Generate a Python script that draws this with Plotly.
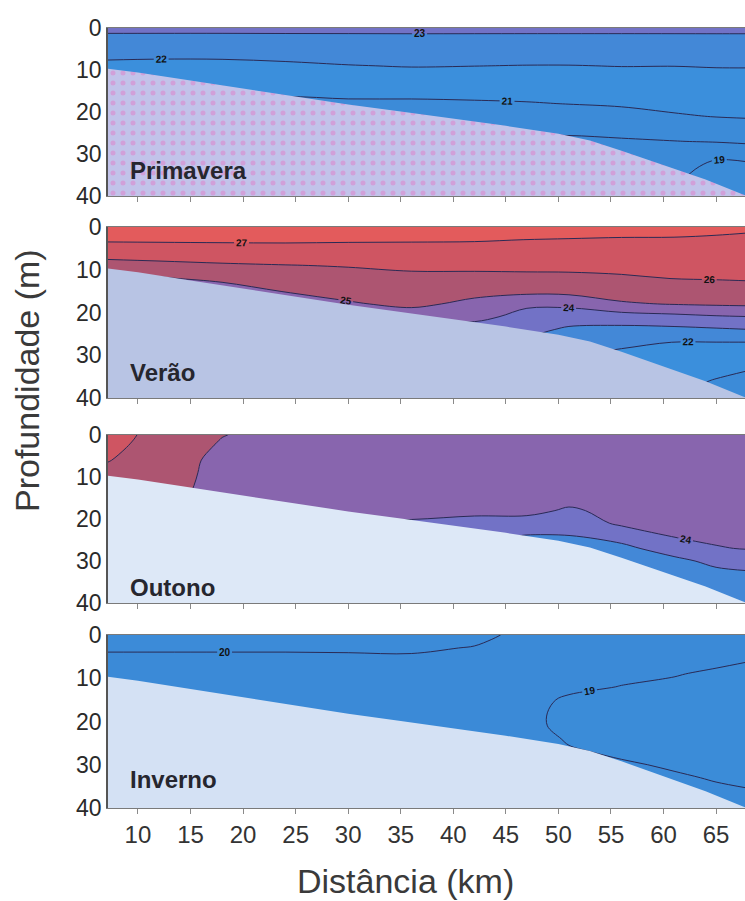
import plotly.graph_objects as go

# ---------------- data ----------------
dist_km = [7.1, 12, 18, 24, 30, 36, 42, 47, 51, 56, 61, 65, 68]
depth_m = [0, 1, 3, 6, 9, 12, 15, 18, 21, 24, 27, 30, 33, 36, 40]

# bottom topography (km, m)
bottom_km = [6.9, 10, 15, 20, 25, 30, 35, 40, 45, 50, 53, 56, 60, 64, 67.5, 68.5]
bottom_m = [9.6, 10.6, 12.5, 14.4, 16.3, 18.2, 19.9, 21.6, 23.3, 25.2, 26.8, 29.2, 32.6, 36.1, 39.6, 40.5]

# temperature profiles (°C) at each station, top to bottom, one list per station
primavera = [
    [23.3, 23.05, 22.69, 22.19, 21.84, 21.59, 21.34, 21.08, 20.75, 20.38, 20.02, 19.77, 19.54, 19.31, 19.02],
    [23.3, 23.05, 22.68, 22.16, 21.82, 21.56, 21.3, 21.04, 20.71, 20.35, 20.02, 19.77, 19.54, 19.31, 19.02],
    [23.3, 23.05, 22.68, 22.17, 21.82, 21.55, 21.27, 21.02, 20.67, 20.33, 20.02, 19.77, 19.54, 19.31, 19.02],
    [23.3, 23.05, 22.73, 22.27, 21.86, 21.51, 21.15, 20.83, 20.54, 20.25, 19.96, 19.74, 19.52, 19.3, 19.02],
    [23.3, 23.05, 22.75, 22.35, 21.97, 21.6, 21.22, 20.87, 20.54, 20.22, 19.93, 19.71, 19.5, 19.29, 19.02],
    [23.3, 23.05, 22.78, 22.41, 22.04, 21.64, 21.24, 20.86, 20.52, 20.17, 19.9, 19.69, 19.48, 19.28, 19.02],
    [23.3, 23.05, 22.77, 22.39, 22.01, 21.64, 21.27, 20.9, 20.54, 20.18, 19.9, 19.69, 19.48, 19.28, 19.02],
    [23.3, 23.05, 22.76, 22.37, 21.98, 21.64, 21.3, 20.95, 20.55, 20.16, 19.88, 19.68, 19.47, 19.27, 19.02],
    [23.3, 23.05, 22.76, 22.37, 21.98, 21.65, 21.33, 21.02, 20.58, 20.17, 19.85, 19.59, 19.34, 19.08, 18.75],
    [23.3, 23.05, 22.76, 22.38, 22.02, 21.7, 21.4, 21.1, 20.71, 20.29, 19.9, 19.6, 19.3, 19.02, 18.6],
    [23.3, 23.05, 22.77, 22.39, 22.01, 21.75, 21.48, 21.22, 20.92, 20.44, 19.98, 19.71, 19.45, 19.18, 18.9],
    [23.3, 23.05, 22.78, 22.41, 22.04, 21.78, 21.53, 21.28, 21.03, 20.56, 20.05, 19.27, 18.7, 18.4, 18.2],
    [23.3, 23.05, 22.78, 22.43, 22.04, 21.8, 21.56, 21.31, 21.07, 20.66, 20.16, 19.33, 18.8, 18.5, 18.2],
]
verao = [
    [27.5, 27.37, 27.11, 26.44, 25.61, 24.5, 23.02, 21.5, 20.5, 20.2, 20.02, 19.8, 19.6, 19.4, 19.2],
    [27.5, 27.37, 27.12, 26.49, 25.74, 24.9, 23.5, 22.02, 20.7, 20.3, 20.02, 19.8, 19.6, 19.4, 19.2],
    [27.5, 27.38, 27.13, 26.55, 25.88, 25.28, 24.38, 23.02, 21.5, 20.6, 20.2, 20.02, 19.8, 19.5, 19.2],
    [27.5, 27.38, 27.13, 26.6, 25.97, 25.52, 25.07, 24.02, 22.5, 21.02, 20.4, 20.1, 19.9, 19.6, 19.3],
    [27.5, 27.37, 27.1, 26.6, 26.05, 25.68, 25.33, 24.9, 23.5, 22.02, 20.8, 20.3, 20.02, 19.7, 19.4],
    [27.5, 27.36, 27.08, 26.63, 26.16, 25.8, 25.5, 25.2, 24.5, 23.02, 21.5, 20.6, 20.2, 19.9, 19.5],
    [27.5, 27.35, 27.06, 26.63, 26.21, 25.75, 25.26, 24.78, 24.31, 23.5, 22.33, 21.02, 20.4, 20.02, 19.6],
    [27.5, 27.33, 26.99, 26.6, 26.22, 25.78, 25.27, 24.18, 23.65, 23.26, 22.75, 22.02, 20.8, 20.3, 19.8],
    [27.5, 27.31, 26.95, 26.59, 26.22, 25.8, 25.3, 24.25, 23.43, 22.86, 22.43, 22.02, 21.02, 20.5, 20.02],
    [27.5, 27.26, 26.9, 26.58, 26.25, 25.89, 25.43, 24.89, 23.53, 22.74, 22.19, 21.8, 21.5, 21.2, 20.8],
    [27.5, 27.29, 26.87, 26.58, 26.29, 26.02, 25.48, 25.05, 23.72, 22.77, 21.98, 21.77, 21.54, 21.31, 20.98],
    [27.5, 27.13, 26.85, 26.59, 26.33, 26.05, 25.61, 25.13, 23.9, 22.88, 21.98, 21.65, 21.29, 20.94, 20.5],
    [27.4, 27.04, 26.84, 26.58, 26.34, 26.08, 25.67, 25.17, 23.98, 22.98, 21.98, 21.54, 21.08, 20.7, 20.3],
]
outono = [
    [26.4, 26.34, 26.22, 26.04, 25.8, 25.5, 25.2, 24.9, 24.7, 24.5, 24.3, 24.1, 23.9, 23.7, 23.5],
    [25.7, 25.68, 25.62, 25.55, 25.45, 25.35, 25.25, 25.1, 24.98, 24.9, 24.7, 24.5, 24.3, 24.1, 23.9],
    [25.03, 24.98, 24.88, 24.73, 24.72, 24.72, 24.7, 24.6, 24.5, 24.4, 24.3, 24.2, 24.1, 24.03, 23.9],
    [24.7, 24.68, 24.65, 24.6, 24.55, 24.5, 24.4, 24.2, 23.98, 23.8, 23.5, 23.3, 23.1, 22.98, 22.8],
    [24.7, 24.68, 24.65, 24.6, 24.55, 24.45, 24.3, 24.15, 23.95, 23.7, 23.4, 23.2, 22.98, 22.9, 22.7],
    [24.7, 24.68, 24.65, 24.6, 24.55, 24.45, 24.3, 24.12, 23.95, 23.6, 23.3, 23.1, 22.9, 22.8, 22.6],
    [24.7, 24.68, 24.65, 24.6, 24.5, 24.4, 24.28, 24.15, 23.8, 23.3, 22.8, 22.5, 22.3, 22.1, 21.9],
    [24.7, 24.68, 24.65, 24.6, 24.5, 24.4, 24.28, 24.2, 23.7, 22.95, 22.5, 22.2, 21.98, 21.8, 21.6],
    [24.7, 24.68, 24.65, 24.6, 24.5, 24.4, 24.25, 23.9, 23.5, 22.98, 22.6, 22.3, 22.1, 21.9, 21.7],
    [24.7, 24.68, 24.65, 24.6, 24.5, 24.4, 24.3, 24.22, 24.15, 23.45, 22.7, 22.4, 22.1, 21.9, 21.7],
    [24.7, 24.68, 24.65, 24.6, 24.5, 24.42, 24.35, 24.28, 24.2, 24.06, 23.55, 22.7, 22.3, 22.03, 21.7],
    [24.7, 24.68, 24.65, 24.6, 24.52, 24.45, 24.38, 24.3, 24.22, 24.15, 23.95, 23.3, 22.7, 22.4, 22.1],
    [24.7, 24.68, 24.65, 24.6, 24.52, 24.45, 24.38, 24.3, 24.24, 24.16, 24.04, 23.5, 22.85, 22.5, 22.2],
]
inverno = [
    [20.3, 20.22, 20.07, 19.85, 19.7, 19.6, 19.55, 19.5, 19.45, 19.4, 19.4, 19.4, 19.4, 19.4, 19.4],
    [20.3, 20.22, 20.07, 19.85, 19.7, 19.6, 19.55, 19.5, 19.45, 19.4, 19.4, 19.4, 19.4, 19.4, 19.4],
    [20.3, 20.22, 20.07, 19.85, 19.7, 19.6, 19.55, 19.5, 19.45, 19.4, 19.4, 19.4, 19.4, 19.4, 19.4],
    [20.3, 20.22, 20.07, 19.85, 19.7, 19.6, 19.55, 19.5, 19.45, 19.4, 19.4, 19.4, 19.4, 19.4, 19.4],
    [20.3, 20.22, 20.08, 19.86, 19.7, 19.6, 19.55, 19.5, 19.45, 19.4, 19.4, 19.4, 19.4, 19.4, 19.4],
    [20.3, 20.22, 20.09, 19.88, 19.7, 19.6, 19.55, 19.5, 19.45, 19.4, 19.4, 19.4, 19.4, 19.4, 19.4],
    [20.15, 20.1, 19.97, 19.8, 19.65, 19.55, 19.45, 19.4, 19.35, 19.3, 19.25, 19.25, 19.25, 19.25, 19.25],
    [19.85, 19.8, 19.7, 19.55, 19.45, 19.35, 19.22, 19.19, 19.19, 19.22, 19.25, 19.25, 19.25, 19.25, 19.25],
    [19.8, 19.75, 19.65, 19.5, 19.35, 19.15, 18.9, 18.8, 18.8, 18.95, 19.05, 19.1, 19.1, 19.1, 19.1],
    [19.7, 19.65, 19.5, 19.35, 19.15, 18.98, 18.85, 18.8, 18.8, 18.85, 18.93, 19.05, 19.1, 19.1, 19.1],
    [19.6, 19.55, 19.4, 19.2, 19.03, 18.9, 18.85, 18.8, 18.8, 18.82, 18.88, 18.95, 19.05, 19.1, 19.1],
    [19.5, 19.45, 19.3, 19.1, 18.92, 18.85, 18.82, 18.8, 18.8, 18.82, 18.85, 18.9, 18.97, 19.06, 19.1],
    [19.45, 19.38, 19.22, 19.01, 18.88, 18.82, 18.8, 18.8, 18.8, 18.8, 18.82, 18.85, 18.92, 19.02, 19.1],
]

season_names = ["Primavera", "Verão", "Outono", "Inverno"]
season_profiles = [primavera, verao, outono, inverno]

x_ticks = [10, 15, 20, 25, 30, 35, 40, 45, 50, 55, 60, 65]
y_ticks = [0, 10, 20, 30, 40]

# ---------------- style ----------------
FONT = "Liberation Sans, Arial, Helvetica, sans-serif"
W, H = 745, 901
ML, MR, MT, MB = 108, 0, 28, 93
PH = H - MT - MB

panel_px = [(28, 196), (227, 398), (435, 603), (635, 808)]   # top, bottom pixel rows
label_px = [170, 372, 587, 779]
mask_colors = ["#c2c3ea", "#b8c4e4", "#dde8f7", "#d4e1f4"]

# band colours, one per 1 °C band (lower bound 16 .. 28)
band_colors = ["#5aa4e8", "#4a9ae2", "#3b8cd8", "#3b8ad7", "#3c8bd8", "#3b8fdc",
               "#4388d7", "#7272c6", "#8865ae", "#ad5571", "#cf5562", "#e35b5c", "#b84a52"]
cstart, cend = 17, 28
nb = len(band_colors) - 1
colorscale = [[i / nb, c] for i, c in enumerate(band_colors)]


def py(px):
    return (H - MB - px) / PH


fig = go.Figure()
for i, prof in enumerate(season_profiles):
    k = "" if i == 0 else str(i + 1)
    z = [list(r) for r in zip(*prof)]  # rows = depth, cols = distance
    fig.add_trace(go.Contour(
        x=dist_km, y=depth_m, z=z,
        xaxis="x" + k, yaxis="y" + k,
        autocontour=False,
        contours=dict(start=cstart, end=cend, size=1, coloring="fill",
                      showlabels=True,
                      labelfont=dict(size=10, color="#111111", family=FONT, weight="bold")),
        colorscale=colorscale, showscale=False,
        line=dict(color="#2a2a55", width=1),
        hoverinfo="skip",
    ))
    mask = dict(
        x=bottom_km + [68.5, 6.9], y=bottom_m + [41, 41],
        xaxis="x" + k, yaxis="y" + k,
        mode="lines", fill="toself", fillcolor=mask_colors[i],
        line=dict(width=0, color=mask_colors[i]), hoverinfo="skip", showlegend=False,
    )
    if i == 0:
        mask["fillpattern"] = dict(shape=".", bgcolor=mask_colors[0], fgcolor="#e07ec8",
                                   size=10, solidity=0.2)
    fig.add_trace(go.Scatter(**mask))

layout = dict(
    width=W, height=H, margin=dict(l=ML, r=MR, t=MT, b=MB),
    paper_bgcolor="white", plot_bgcolor="white", showlegend=False,
    font=dict(family=FONT, color="#2a2a2a"),
)
annotations = []
for i in range(4):
    k = "" if i == 0 else str(i + 1)
    top, bot = panel_px[i]
    layout["xaxis" + k] = dict(
        domain=[0, 1], range=[7.15, 67.75], anchor="y" + k,
        tickvals=x_ticks, ticks="outside", ticklen=5, tickcolor="#8a8a8a",
        showticklabels=(i == 3), tickfont=dict(size=24, color="#333333"),
        showline=True, linecolor="#7a7a7a", linewidth=1, mirror=True,
        showgrid=False, zeroline=False,
    )
    layout["yaxis" + k] = dict(
        domain=[py(bot), py(top)], range=[40, 0], anchor="x" + k,
        tickvals=y_ticks, ticks="", tickfont=dict(size=23, color="#2a2a2a"),
        showline=True, linecolor="#555555", linewidth=1.5,
        showgrid=False, zeroline=False,
    )
    annotations.append(dict(
        text="<b>" + season_names[i] + "</b>", xref="paper", yref="paper",
        x=(128 - ML) / (W - ML - MR), y=py(label_px[i]), xanchor="left", yanchor="middle",
        showarrow=False, font=dict(size=24, color="#26262e", family=FONT),
    ))

annotations.append(dict(
    text="Profundidade (m)", xref="paper", yref="paper",
    x=(27 - ML) / (W - ML - MR), y=py(381), xanchor="center", yanchor="middle",
    textangle=-90, showarrow=False, font=dict(size=34, color="#3a3a3a", family=FONT),
))
annotations.append(dict(
    text="Distância (km)", xref="paper", yref="paper",
    x=(405 - ML) / (W - ML - MR), y=py(881), xanchor="center", yanchor="middle",
    showarrow=False, font=dict(size=34, color="#3a3a3a", family=FONT),
))
layout["annotations"] = annotations
fig.update_layout(**layout)

fig.write_html("out.html")
